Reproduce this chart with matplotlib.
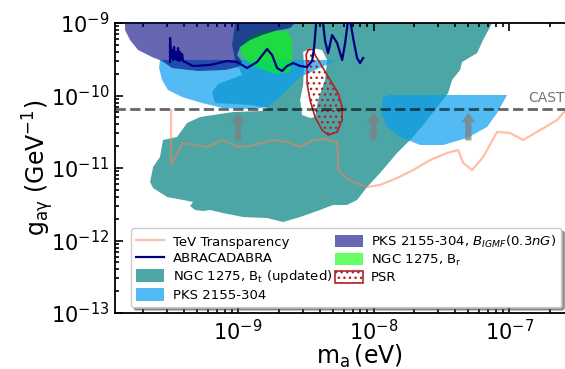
import numpy as np
import matplotlib
matplotlib.use('Agg')
import matplotlib.pyplot as plt

# all coordinates below are log10 values: (m_a [eV], g_ay [GeV^-1])
ngc_bt_m = [-9.022, -7.125, -7.192, -7.236, -7.347, -7.362, -7.421, -7.450, -7.531, -7.605,
            -7.708, -7.827, -7.952, -8.048, -8.122, -8.196, -8.299, -8.395, -8.542, -8.668,
            -8.786, -8.963, -9.111, -9.207, -9.258, -9.317, -9.354, -9.332, -9.406, -9.524,
            -9.627, -9.649, -9.627, -9.576, -9.554, -9.450, -9.376, -9.280, -9.037, -8.823,
            -8.779, -8.911, -9.170, -9.192, -9.148, -8.970, -9.022, -9.044]
ngc_bt_g = [-9.000, -9.000, -9.234, -9.414, -9.538, -9.648, -9.786, -9.966, -10.159, -10.338,
            -10.572, -10.793, -11.069, -11.262, -11.441, -11.510, -11.510, -11.579, -11.676, -11.745,
            -11.690, -11.676, -11.621, -11.579, -11.593, -11.579, -11.524, -11.469, -11.441, -11.400,
            -11.276, -11.193, -10.986, -10.848, -10.614, -10.572, -10.379, -10.297, -10.228, -10.214,
            -10.172, -10.131, -10.103, -9.952, -9.841, -9.717, -9.510, -9.303]

# gap inside the NGC 1275 region next to the PSR contour
gap_m = [-8.520, -8.454, -8.380, -8.343, -8.358, -8.410, -8.432, -8.469, -8.528, -8.542, -8.520, -8.513]
gap_g = [-9.400, -9.345, -9.372, -9.510, -9.786, -10.062, -10.297, -10.310, -10.269, -10.062, -9.855, -9.579]

pks_a_m = [-9.576, -8.269, -8.542, -8.690, -8.779, -8.911, -9.118, -9.266, -9.413, -9.517, -9.561, -9.583]
pks_a_g = [-9.510, -9.510, -9.745, -10.021, -10.159, -10.186, -10.172, -10.103, -10.021, -9.924, -9.786, -9.621]

pks_b_m = [-7.930, -7.878, -7.015, -7.089, -7.162, -7.310, -7.487, -7.657, -7.804, -7.900, -7.937, -7.937]
pks_b_g = [-10.021, -9.993, -9.993, -10.241, -10.434, -10.586, -10.683, -10.683, -10.572, -10.434, -10.269, -10.131]

igmf_m = [-9.834, -8.579, -8.616, -8.727, -8.823, -8.911, -8.985, -9.007, -8.970, -9.000,
          -9.096, -9.295, -9.487, -9.561, -9.635, -9.738, -9.797, -9.834]
igmf_g = [-9.000, -9.000, -9.069, -9.110, -9.166, -9.234, -9.331, -9.441, -9.538, -9.607,
          -9.648, -9.662, -9.621, -9.524, -9.469, -9.372, -9.234, -9.097]

ngc_br_m = [-8.948, -8.875, -8.764, -8.638, -8.601, -8.601, -8.616, -8.727, -8.852, -8.948, -8.985]
ngc_br_g = [-9.234, -9.138, -9.097, -9.110, -9.234, -9.510, -9.676, -9.703, -9.621, -9.510, -9.372]

psr_m = [-8.483, -8.446, -8.432, -8.395, -8.321, -8.262, -8.232, -8.232, -8.269, -8.336,
         -8.380, -8.432, -8.469, -8.491, -8.491, -8.498]
psr_g = [-9.372, -9.359, -9.441, -9.552, -9.786, -9.966, -10.159, -10.338, -10.503, -10.545,
         -10.476, -10.297, -10.062, -9.828, -9.607, -9.441]

tev_m = [-9.494, -9.494, -9.406, -9.229, -9.111, -9.007, -8.911, -8.742, -8.638, -8.542,
         -8.446, -8.373, -8.269, -8.262, -8.262, -8.173, -8.048, -7.952, -7.827, -7.708,
         -7.583, -7.458, -7.376, -7.339, -7.273, -7.192, -7.089, -6.993, -6.897, -6.771,
         -6.646, -6.601, -6.476]
tev_g = [-10.200, -10.959, -10.655, -10.710, -10.614, -10.710, -10.697, -10.614, -10.641, -10.710,
         -10.614, -10.600, -10.641, -10.848, -11.028, -11.179, -11.262, -11.234, -11.138, -11.028,
         -10.890, -10.793, -10.752, -10.931, -11.028, -10.848, -10.503, -10.517, -10.614, -10.476,
         -10.338, -10.241, -10.034]

abra_m = [-9.502, -9.502, -9.494, -9.487, -9.480, -9.472, -9.465, -9.458, -9.450, -9.443,
          -9.435, -9.428, -9.421, -9.413, -9.406, -9.391, -9.332, -9.207, -9.081, -9.007,
          -8.934, -8.860, -8.786, -8.749, -8.712, -8.675, -8.638, -8.594, -8.542, -8.491,
          -8.454, -8.439, -8.424, -8.402, -8.373, -8.358, -8.336, -8.306, -8.269, -8.232,
          -8.210, -8.188, -8.173, -8.151, -8.122, -8.100, -8.077]
abra_g = [-9.538, -9.207, -9.483, -9.372, -9.510, -9.331, -9.497, -9.400, -9.510, -9.345,
          -9.524, -9.400, -9.510, -9.428, -9.524, -9.538, -9.593, -9.579, -9.524, -9.538,
          -9.621, -9.538, -9.359, -9.441, -9.621, -9.662, -9.593, -9.552, -9.593, -9.607,
          -9.524, -9.345, -9.000, -8.903, -9.000, -9.248, -9.414, -9.166, -9.276, -9.510,
          -9.276, -8.959, -8.959, -9.207, -9.483, -9.552, -9.483]

cast_g = 6.6e-11
arrow_m = [1e-9, 1e-8, 5e-8]
arrow_lo, arrow_hi = 2.4e-11, 5.8e-11


def p(a):
    return 10 ** np.array(a)


fig = plt.figure(figsize=(5.65, 3.69), dpi=100)
ax = fig.add_axes([115 / 565, 56 / 369, 489 / 565, 290 / 369])
ax.set_xscale('log')
ax.set_yscale('log')

ax.fill(p(ngc_bt_m), p(ngc_bt_g), color='teal', alpha=0.7, lw=0, zorder=1,
        label=r'NGC 1275, $\mathrm{B_t}$ (updated)')
ax.fill(p(gap_m), p(gap_g), color='white', lw=0, zorder=1.1)
ax.fill(p(pks_a_m), p(pks_a_g), color='#0a9ef0', alpha=0.7, lw=0, zorder=2,
        label='PKS 2155-304')
ax.fill(p(pks_b_m), p(pks_b_g), color='#0a9ef0', alpha=0.7, lw=0, zorder=2)
ax.fill(p(ngc_br_m), p(ngc_br_g), color='lime', alpha=0.6, lw=0, zorder=2.8,
        label=r'NGC 1275, $\mathrm{B_r}$')
ax.fill(p(igmf_m), p(igmf_g), color='navy', alpha=0.6, lw=0, zorder=3,
        label=r'PKS 2155-304, $B_{IGMF}(0.3nG)$')
ax.fill(p(psr_m), p(psr_g), facecolor='none', edgecolor='firebrick', hatch='...',
        lw=1.2, zorder=4, label='PSR')

ax.plot(p(tev_m), p(tev_g), color='coral', alpha=0.5, lw=1.6, zorder=5,
        label='TeV Transparency')
ax.plot(p(abra_m), p(abra_g), color='navy', lw=1.6, zorder=6, label='ABRACADABRA')

ax.axhline(cast_g, color='k', alpha=0.6, lw=2, ls='--', zorder=6)
ax.text(1.38e-7, 7.4e-11, 'CAST', color='0.45', fontsize=10, va='bottom', zorder=6)

for m in arrow_m:
    ax.annotate('', xy=(m, arrow_hi), xytext=(m, arrow_lo), zorder=7,
                arrowprops=dict(width=4.5, headwidth=10, headlength=7, shrink=0,
                                color='gray', alpha=0.75, lw=0))

ax.set_xlim(10 ** -9.908, 10 ** -6.30)
ax.set_ylim(1e-13, 1e-9)
ax.set_xlabel(r'$\mathrm{m_a\,(eV)}$', fontsize=17, labelpad=-1)
ax.set_ylabel(r'$\mathrm{g_{a\gamma}\ (GeV^{-1})}$', fontsize=17, labelpad=-4)
ax.tick_params(which='both', direction='in', top=True, right=True, labelsize=15, width=1.2)
ax.tick_params(which='major', length=6, pad=4)
ax.tick_params(which='minor', length=3)
for s in ax.spines.values():
    s.set_linewidth(1.3)

h, l = ax.get_legend_handles_labels()
order = ['TeV Transparency', 'ABRACADABRA', r'NGC 1275, $\mathrm{B_t}$ (updated)', 'PKS 2155-304',
         r'PKS 2155-304, $B_{IGMF}(0.3nG)$', r'NGC 1275, $\mathrm{B_r}$', 'PSR']
hd = dict(zip(l, h))
ax.legend([hd[k] for k in order], order, ncol=2, fontsize=9.5, loc='lower left',
          bbox_to_anchor=(0.033, 0.02), borderaxespad=0, shadow=True,
          labelspacing=0.22, handlelength=2.1, handleheight=1.1, handletextpad=0.65,
          columnspacing=0.2)

fig.savefig('out.png', dpi=100)
